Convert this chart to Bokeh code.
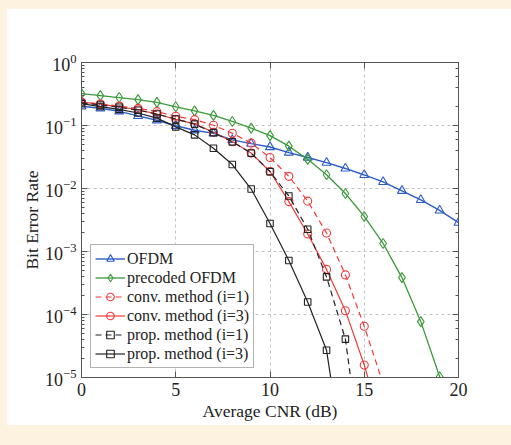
from bokeh.plotting import figure
from bokeh.models import Range1d, FixedTicker, LinearAxis, LogAxis, LogTicker, Legend
from bokeh.embed import file_html
from bokeh.resources import INLINE

# ---------------- data ----------------
snr = list(range(21))
ber_ofdm = [0.202, 0.188, 0.168, 0.142, 0.121, 0.099, 0.084, 0.075, 0.059, 0.0515, 0.0455,
            0.0372, 0.031, 0.0257, 0.0208, 0.0164, 0.0127, 0.0092, 0.0066, 0.0045, 0.00287]
ber_precoded = [0.32, 0.298, 0.278, 0.257, 0.233, 0.198, 0.171, 0.145, 0.116, 0.091, 0.069,
                0.047, 0.029, 0.0165, 0.00833, 0.0036, 0.00134, 3.85e-4, 7.7e-5, 1.03e-5, 9.0e-7]
ber_conv1 = [0.235, 0.22, 0.204, 0.187, 0.166, 0.14, 0.124, 0.101, 0.0755, 0.0525, 0.031,
             0.0156, 0.0063, 0.00197, 4.25e-4, 6.5e-5, 8.0e-6]
ber_conv3 = [0.235, 0.218, 0.198, 0.178, 0.152, 0.125, 0.106, 0.078, 0.0555, 0.0365, 0.0186,
             0.0062, 0.0019, 5.2e-4, 1.15e-4, 1.58e-5, 1.5e-6]
ber_prop1 = [0.228, 0.212, 0.195, 0.175, 0.152, 0.127, 0.105, 0.077, 0.055, 0.0364, 0.0185,
             0.0076, 0.00226, 3.95e-4, 4.07e-5, 2.5e-7]
ber_prop3 = [0.222, 0.2, 0.18, 0.158, 0.131, 0.095, 0.071, 0.0435, 0.024, 0.0098, 0.00278,
             7.2e-4, 1.58e-4, 2.7e-5, 3.0e-7]

labels = ["OFDM", "precoded OFDM", "conv. method (i=1)", "conv. method (i=3)",
          "prop. method (i=1)", "prop. method (i=3)"]
x_ticks = [0, 5, 10, 15, 20]

FONT = "Liberation Serif"
BLUE = "#2d5cc6"
GREEN = "#3a9a3a"
RED = "#f03a3a"
BLACK = "#222222"

p = figure(width=505, height=417, y_axis_type="log",
           x_range=Range1d(0, 20), y_range=Range1d(1e-5, 1),
           output_backend="svg", toolbar_location=None,
           min_border_left=75, min_border_right=53, min_border_top=54, min_border_bottom=48)
p.border_fill_color = "white"
p.background_fill_color = "white"
p.outline_line_color = "#555555"
p.outline_line_width = 1

# axes
p.xaxis.ticker = FixedTicker(ticks=x_ticks)
p.xaxis.axis_label = "Average CNR (dB)"
p.yaxis.axis_label = "Bit Error Rate"
for ax in (p.xaxis[0], p.yaxis[0]):
    ax.axis_label_text_font = FONT
    ax.axis_label_text_font_size = "17.5px"
    ax.axis_label_text_font_style = "normal"
    ax.axis_label_text_color = "#222222"
    ax.major_label_text_font = FONT
    ax.major_label_text_font_size = "18px"
    ax.major_label_text_color = "#222222"
    ax.axis_line_color = "#555555"
    ax.major_tick_line_color = "#555555"
    ax.minor_tick_line_color = "#555555"
    ax.major_tick_in = 6
    ax.major_tick_out = 0
    ax.minor_tick_in = 3
    ax.minor_tick_out = 0
    ax.major_label_standoff = 5
    ax.axis_label_standoff = 2
p.xaxis.minor_tick_line_color = None
p.yaxis.axis_label_standoff = 0

top = LinearAxis(ticker=FixedTicker(ticks=x_ticks), major_label_text_color=None,
                 major_tick_in=6, major_tick_out=0, minor_tick_line_color=None,
                 axis_line_color="#555555", major_tick_line_color="#555555")
p.add_layout(top, "above")
right = LogAxis(ticker=LogTicker(), major_label_text_color=None,
                major_tick_in=6, major_tick_out=0, minor_tick_in=3, minor_tick_out=0,
                axis_line_color="#555555", major_tick_line_color="#555555",
                minor_tick_line_color="#555555")
p.add_layout(right, "right")

# grid
p.xgrid.grid_line_color = "#c4c4c4"
p.xgrid.grid_line_dash = "3 3"
p.ygrid.grid_line_color = "#c4c4c4"
p.ygrid.grid_line_dash = "3 3"
p.xgrid.ticker = FixedTicker(ticks=[5, 10, 15])

# series
series = [
    (ber_ofdm, BLUE, "solid", "triangle", 9, 1.4),
    (ber_precoded, GREEN, "solid", "diamond", 10, 1.3),
    (ber_conv1, RED, "6 4", "circle", 8, 1.2),
    (ber_conv3, RED, "solid", "circle", 8, 1.2),
    (ber_prop1, BLACK, "6 4", "square", 6.5, 1.2),
    (ber_prop3, BLACK, "solid", "square", 6.5, 1.2),
]
items = []
for (ys, col, dash, mk, sz, lw), lab in zip(series, labels):
    xs = snr[:len(ys)]
    r1 = p.line(xs, ys, line_color=col, line_width=lw, line_dash=dash)
    r2 = p.scatter(xs, ys, marker=mk, size=sz, line_color=col, fill_color=None, line_width=1.1)
    items.append((lab, [r1, r2]))

legend = Legend(items=items, location="bottom_left")
legend.label_text_font = FONT
legend.label_text_font_size = "16px"
legend.label_text_color = "#222222"
legend.glyph_width = 30
legend.glyph_height = 19
legend.label_height = 19
legend.label_standoff = 2
legend.spacing = 0
legend.padding = 4
legend.margin = 9
legend.border_line_color = "#666666"
legend.border_line_width = 1
legend.background_fill_color = "white"
legend.background_fill_alpha = 1.0
p.add_layout(legend)

html = file_html(p, INLINE, title="BER")
css = ("<style>html, body { background-color: #fdf1df !important; } "
       "body { padding: 8px 0 0 6px !important; }</style>")
html = html.replace("</head>", css + "</head>", 1)
open("out.html", "w").write(html)
